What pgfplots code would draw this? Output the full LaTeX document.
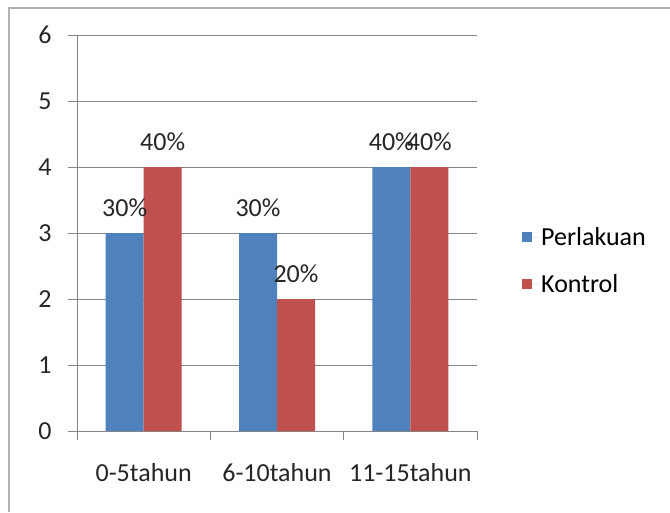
\documentclass[border=0pt]{standalone}
\usepackage{pgfplots}
\pgfplotsset{compat=1.18}
\usepackage{fontspec}
\setmainfont{Carlito}
\definecolor{cblue}{RGB}{79,129,189}
\definecolor{cred}{RGB}{192,80,77}
\definecolor{gline}{RGB}{134,134,134}
\begin{document}
\begin{tikzpicture}
\useasboundingbox (0,0) rectangle (670pt,512pt);
\fill[white] (0,0) rectangle (670pt,512pt);
\draw[gray!60, line width=1.5pt] (9pt,0) -- (9pt,504pt) -- (670pt,504pt);
\begin{axis}[
 at={(77pt,81pt)}, anchor=south west, scale only axis, width=400pt, height=396pt,
 xmin=-0.5,xmax=2.5,ymin=0,ymax=6,
 ybar=0pt, bar width=38pt,
 axis x line*=bottom, axis y line*=left, axis line style={gline,line width=0.8pt,-},
 ytick={0,...,6}, ymajorgrids, grid style={gline,line width=0.8pt},
 xtick={-0.5,0.5,1.5,2.5}, xticklabels={},
 extra x ticks={0,1,2}, extra x tick labels={0-5tahun,6-10tahun,11-15tahun},
 extra x tick style={major tick length=0pt, grid=none, xticklabel style={yshift=-29pt}},
 tick align=outside, major tick length=9pt, tick style={gline,line width=0.8pt},
 font=\fontsize{26}{30}\selectfont,
 /pgf/number format/assume math mode=true,
 ticklabel style={font=\fontsize{26}{30}\selectfont, text=black!85},
 yticklabel style={xshift=-13pt},
 nodes near coords, point meta=explicit symbolic,
 nodes near coords style={font=\fontsize{26}{30}\selectfont, text=black!85, yshift=13pt},
 legend style={at={(1,0.43)}, anchor=west, xshift=42pt, draw=none, fill=none,
   font=\fontsize{26}{30}\selectfont, row sep=23pt, cells={anchor=west}},
 legend image code/.code={\fill[#1] (0pt,-5pt) rectangle (10pt,5pt); \path (0pt,0pt) -- (17pt,0pt);},
]
\addplot[fill=cblue, draw=none] coordinates {(0,3) [30\%] (1,3) [30\%] (2,4) [40\%]};
\addplot[fill=cred, draw=none] coordinates {(0,4) [40\%] (1,2) [20\%] (2,4) [40\%]};
\legend{Perlakuan,Kontrol}
\end{axis}
\end{tikzpicture}
\end{document}
